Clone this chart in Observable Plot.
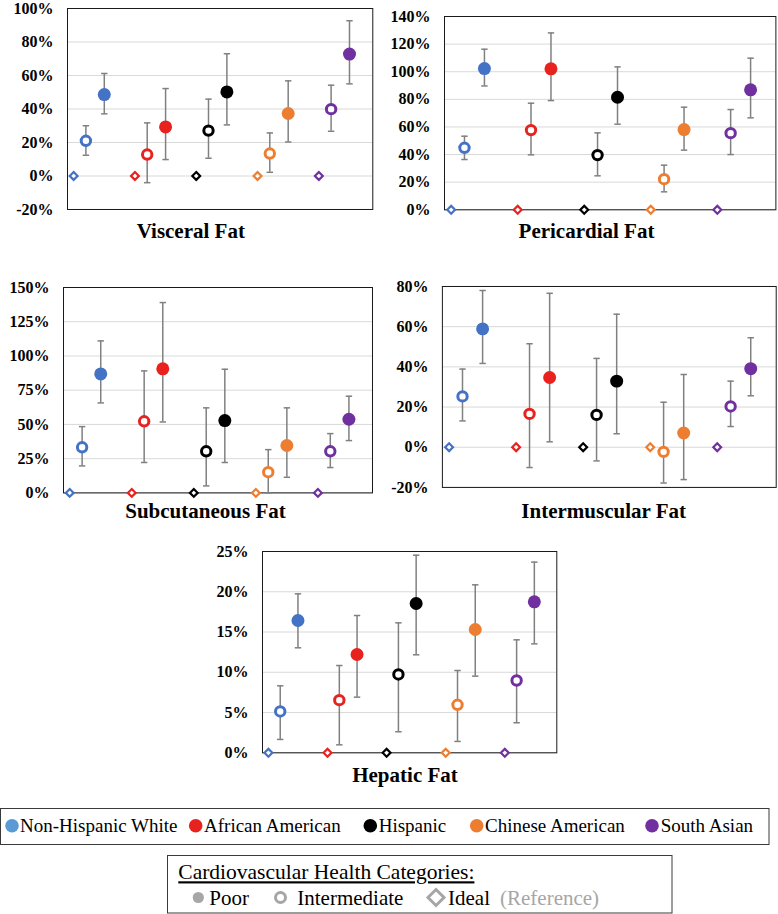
<!DOCTYPE html>
<html>
<head>
<meta charset="utf-8">
<script src="https://cdn.jsdelivr.net/npm/d3@7"></script>
<script src="https://cdn.jsdelivr.net/npm/@observablehq/plot@0.6"></script>
<style>
  body { margin: 0; background: #fff; }
  #page { position: relative; width: 778px; height: 914px; overflow: hidden; background: #fff;
          font-family: "Liberation Serif", "Times New Roman", serif; }
  .panel { position: absolute; }
</style>
</head>
<body>
<div id="page"></div>
<script>
// ---------------- DATA ----------------
const groups = ["Non-Hispanic White", "African American", "Hispanic", "Chinese American", "South Asian"];
const groupColors = ["#4472C4", "#E8221E", "#000000", "#ED7D31", "#7030A0"];
const legendColors = ["#5B9BD5", "#E8221E", "#000000", "#ED7D31", "#7030A0"];
const categories = ["Ideal", "Intermediate", "Poor"];
const idealValues = [0, 0, 0, 0, 0];

// Visceral Fat
const visceralTicks = [-20, 0, 20, 40, 60, 80, 100];
const visceralInter = [21.0, 12.8, 27.1, 13.4, 39.9];
const visceralInterLo = [12.4, -4.0, 10.6, 2.2, 26.7];
const visceralInterHi = [30.0, 31.7, 45.9, 25.7, 54.2];
const visceralPoor = [48.6, 29.3, 50.2, 37.3, 72.8];
const visceralPoorLo = [37.1, 9.8, 30.5, 20.3, 55.0];
const visceralPoorHi = [61.2, 52.2, 73.0, 56.8, 92.7];

// Pericardial Fat
const pericardialTicks = [0, 20, 40, 60, 80, 100, 120, 140];
const pericardialInter = [44.9, 57.7, 39.6, 22.2, 55.5];
const pericardialInterLo = [36.4, 39.8, 24.6, 13.0, 40.0];
const pericardialInterHi = [53.3, 77.2, 55.7, 32.3, 72.6];
const pericardialPoor = [102.3, 102.1, 81.5, 58.1, 86.9];
const pericardialPoorLo = [89.7, 79.1, 62.0, 43.2, 66.6];
const pericardialPoorHi = [116.3, 128.1, 103.5, 74.3, 109.8];

// Subcutaneous Fat
const subcutaneousTicks = [0, 25, 50, 75, 100, 125, 150];
const subcutaneousInter = [33.3, 52.3, 30.4, 15.1, 30.4];
const subcutaneousInterLo = [19.7, 22.2, 5.1, 0.0, 18.5];
const subcutaneousInterHi = [48.4, 89.1, 62.1, 31.6, 43.3];
const subcutaneousPoor = [86.9, 90.6, 52.8, 34.6, 53.8];
const subcutaneousPoorLo = [65.7, 51.8, 22.2, 11.4, 38.2];
const subcutaneousPoorHi = [111.0, 139.0, 90.3, 62.1, 70.6];

// Intermuscular Fat
const intermuscularTicks = [-20, 0, 20, 40, 60, 80];
const intermuscularInter = [25.3, 16.6, 16.1, -2.3, 20.3];
const intermuscularInterLo = [13.1, -10.1, -6.8, -17.8, 10.3];
const intermuscularInterHi = [38.9, 51.5, 44.2, 22.4, 32.9];
const intermuscularPoor = [58.9, 34.7, 32.9, 7.1, 39.1];
const intermuscularPoorLo = [41.7, 2.7, 6.7, -16.1, 25.6];
const intermuscularPoorHi = [78.0, 76.6, 66.2, 36.2, 54.5];

// Hepatic Fat
const hepaticTicks = [0, 5, 10, 15, 20, 25];
const hepaticInter = [5.13, 6.54, 9.73, 5.96, 8.98];
const hepaticInterLo = [1.66, 0.99, 2.61, 1.41, 3.73];
const hepaticInterHi = [8.32, 10.84, 16.14, 10.22, 14.03];
const hepaticPoor = [16.43, 12.21, 18.54, 15.31, 18.75];
const hepaticPoorLo = [13.04, 6.91, 12.17, 9.52, 13.53];
const hepaticPoorHi = [19.74, 17.05, 24.54, 20.86, 23.68];

const legendTitle = "Cardiovascular Health Categories:";
const legendCats = ["Poor", "Intermediate", "Ideal"];
const legendRefNote = "(Reference)";

// ---------------- LAYOUT ----------------
const FONT = "Liberation Serif, Times New Roman, serif";
const catOffset = {Ideal: 0, Intermediate: 0.2, Poor: 0.5};

const panels = [
  {title: "Visceral Fat", ticks: visceralTicks, inter: visceralInter, interLo: visceralInterLo, interHi: visceralInterHi,
   poor: visceralPoor, poorLo: visceralPoorLo, poorHi: visceralPoorHi,
   frame: {left: 66.7, top: 8, right: 372, bottom: 209}, titleX: 190.8, titleY: 238},
  {title: "Pericardial Fat", ticks: pericardialTicks, inter: pericardialInter, interLo: pericardialInterLo, interHi: pericardialInterHi,
   poor: pericardialPoor, poorLo: pericardialPoorLo, poorHi: pericardialPoorHi,
   frame: {left: 444.3, top: 16, right: 775.7, bottom: 209.3}, titleX: 586.5, titleY: 237.5},
  {title: "Subcutaneous Fat", ticks: subcutaneousTicks, inter: subcutaneousInter, interLo: subcutaneousInterLo, interHi: subcutaneousInterHi,
   poor: subcutaneousPoor, poorLo: subcutaneousPoorLo, poorHi: subcutaneousPoorHi,
   frame: {left: 63.3, top: 287.3, right: 372.3, bottom: 492.7}, titleX: 205.5, titleY: 518.3},
  {title: "Intermuscular Fat", ticks: intermuscularTicks, inter: intermuscularInter, interLo: intermuscularInterLo, interHi: intermuscularInterHi,
   poor: intermuscularPoor, poorLo: intermuscularPoorLo, poorHi: intermuscularPoorHi,
   frame: {left: 442.3, top: 286, right: 776.7, bottom: 487.3}, titleX: 603.7, titleY: 518.3},
  {title: "Hepatic Fat", ticks: hepaticTicks, inter: hepaticInter, interLo: hepaticInterLo, interHi: hepaticInterHi,
   poor: hepaticPoor, poorLo: hepaticPoorLo, poorHi: hepaticPoorHi,
   frame: {left: 261.7, top: 551, right: 556, bottom: 752.3}, titleX: 405, titleY: 781.7}
];

const capSymbol = {draw(ctx, size) { const w = Math.sqrt(size / Math.PI); ctx.moveTo(-w, 0); ctx.lineTo(w, 0); }};
const diamondSymbol = {draw(ctx, size) { const r = Math.sqrt(size / Math.PI); ctx.moveTo(0, -r); ctx.lineTo(r, 0); ctx.lineTo(0, r); ctx.lineTo(-r, 0); ctx.closePath(); }};

const page = document.getElementById("page");

for (const p of panels) {
  const rows = groups.flatMap((g, i) => [
    {group: g, i, cat: "Ideal", value: idealValues[i]},
    {group: g, i, cat: "Intermediate", value: p.inter[i], lo: p.interLo[i], hi: p.interHi[i]},
    {group: g, i, cat: "Poor", value: p.poor[i], lo: p.poorLo[i], hi: p.poorHi[i]}
  ]);
  const bars = rows.filter(d => d.cat !== "Ideal");
  const xOf = d => d.i + catOffset[d.cat];
  const mL = 62, mT = 10, mR = 2, mB = 3;
  const f = p.frame;
  const W = (f.right - f.left) + mL + mR;
  const H = (f.bottom - f.top) + mT + mB;
  const chart = Plot.plot({
    width: W, height: H,
    marginLeft: mL, marginTop: mT, marginRight: mR, marginBottom: mB,
    style: {fontFamily: FONT, background: "transparent", overflow: "visible"},
    x: {domain: [-0.1, 4.88], axis: null},
    y: {domain: [p.ticks[0], p.ticks[p.ticks.length - 1]], axis: null},
    color: {domain: groups, range: groupColors},
    marks: [
      Plot.ruleY(p.ticks, {y: d => d, stroke: "#d9d9d9", strokeWidth: 1}),
      Plot.frame({stroke: "#1a1a1a", strokeWidth: 1}),
      Plot.text(p.ticks, {y: d => d, frameAnchor: "left", dx: -14, textAnchor: "end",
        text: d => d + "%", fontSize: 16, fontWeight: "bold", fontFamily: FONT, fill: "#000"}),
      Plot.ruleX(bars, {x: xOf, y1: "lo", y2: "hi", stroke: "#808080", strokeWidth: 1.5}),
      Plot.dot(bars, {x: xOf, y: "lo", symbol: capSymbol, r: 3.2, stroke: "#808080", strokeWidth: 1.5, fill: "none"}),
      Plot.dot(bars, {x: xOf, y: "hi", symbol: capSymbol, r: 3.2, stroke: "#808080", strokeWidth: 1.5, fill: "none"}),
      Plot.dot(rows.filter(d => d.cat === "Ideal"), {x: xOf, y: "value", symbol: diamondSymbol, r: 3.9, stroke: "group", strokeWidth: 2.2, fill: "white"}),
      Plot.dot(rows.filter(d => d.cat === "Intermediate"), {x: xOf, y: "value", r: 4.7, stroke: "group", strokeWidth: 3, fill: "white"}),
      Plot.dot(rows.filter(d => d.cat === "Poor"), {x: xOf, y: "value", r: 6.5, fill: "group", stroke: "none"})
    ]
  });
  const div = document.createElement("div");
  div.className = "panel";
  div.style.left = (f.left - mL) + "px";
  div.style.top = (f.top - mT) + "px";
  div.appendChild(chart);
  page.appendChild(div);
}

// ---------------- OVERLAY: titles and legends ----------------
const svg = d3.select(page).append("svg")
  .attr("width", 778).attr("height", 914)
  .attr("font-family", FONT)
  .style("position", "absolute").style("left", 0).style("top", 0)
  .style("pointer-events", "none");

const addText = (x, y, size, str) => svg.append("text").attr("x", x).attr("y", y)
  .attr("font-size", size).attr("font-family", FONT).attr("fill", "#000").text(str);

for (const p of panels) {
  addText(p.titleX, p.titleY, 21, p.title).attr("text-anchor", "middle").attr("font-weight", "bold");
}

// Legend 1 (groups)
svg.append("rect").attr("x", 0.5).attr("y", 808.5).attr("width", 768.5).attr("height", 36)
  .attr("fill", "none").attr("stroke", "#3a3a3a").attr("stroke-width", 1);
const dotX = [12, 195.7, 370.3, 476.7, 652];
const textX = [20, 204, 378.7, 485, 660.7];
groups.forEach((g, i) => {
  svg.append("circle").attr("cx", dotX[i]).attr("cy", 825.7).attr("r", 6.8).attr("fill", legendColors[i]);
  addText(textX[i], 831.7, 19, g);
});

// Legend 2 (categories)
svg.append("rect").attr("x", 167.5).attr("y", 855.5).attr("width", 504.5).attr("height", 57.5)
  .attr("fill", "none").attr("stroke", "#3a3a3a").attr("stroke-width", 1);
addText(178.3, 879.3, 21.5, legendTitle).attr("text-decoration", "underline");
const gray = "#a6a6a6";
svg.append("circle").attr("cx", 198.3).attr("cy", 897.5).attr("r", 5.6).attr("fill", gray);
addText(209.3, 905, 21, legendCats[0]);
svg.append("circle").attr("cx", 280.5).attr("cy", 897.5).attr("r", 5).attr("fill", "white")
  .attr("stroke", gray).attr("stroke-width", 3);
addText(297.3, 905, 21, legendCats[1]);
svg.append("path").attr("d", "M436,889.5 L444,897.5 L436,905.5 L428,897.5 Z").attr("fill", "white")
  .attr("stroke", gray).attr("stroke-width", 3);
addText(448, 905, 21, legendCats[2]);
addText(500, 905, 21, legendRefNote).attr("fill", gray);
</script>
</body>
</html>
